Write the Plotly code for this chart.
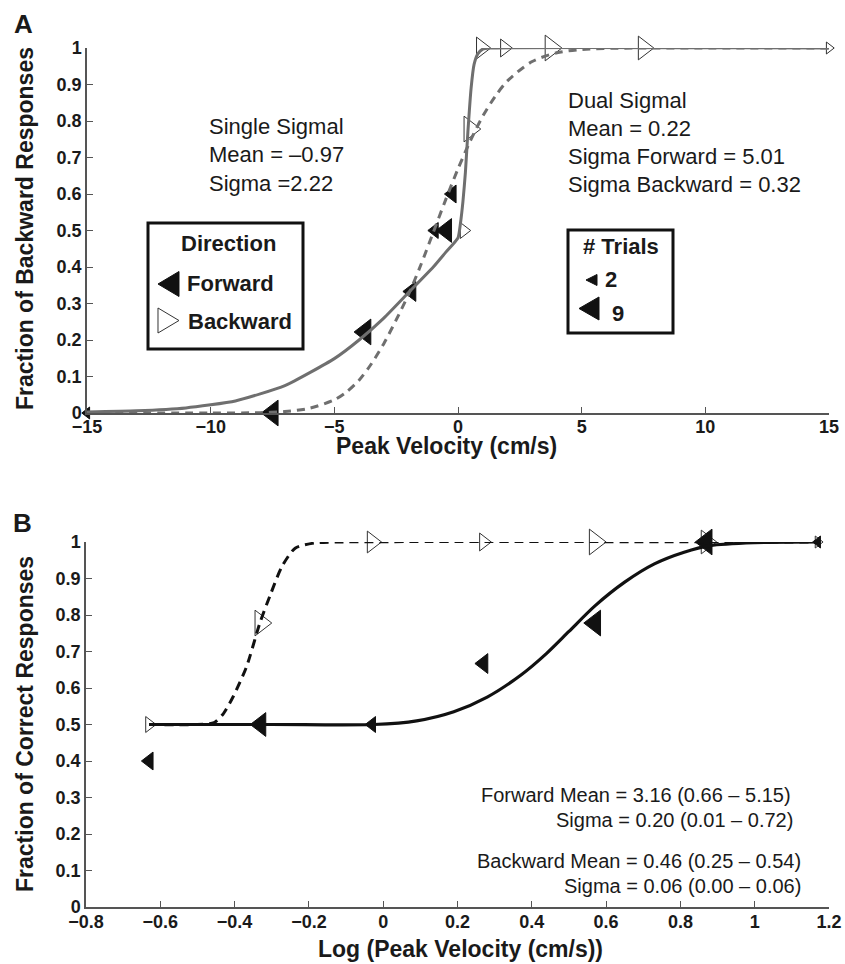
import plotly.graph_objects as go

W, H = 845, 964

# ---------------- data ----------------
# Panel A: peak velocity (cm/s), fraction of "backward" responses
fwd_velocity = [-0.234, -0.47, -0.94, -1.88, -3.75, -7.5, -15]
fwd_frac_backward = [0.6, 0.5, 0.5, 0.333, 0.222, 0.0, 0.0]
fwd_trials = [5, 8, 4, 6, 9, 9, 2]

bwd_velocity = [0.234, 0.47, 0.94, 1.88, 3.75, 7.5, 15]
bwd_frac_backward = [0.5, 0.778, 1.0, 1.0, 1.0, 1.0, 1.0]
bwd_trials = [4, 9, 7, 5, 9, 8, 2]

# fitted curves
dual_fit_x = [-15, -13, -11, -9, -7, -5, -4, -3, -2, -1, -0.5, 0, 0.1, 0.2, 0.3, 0.4, 0.53, 0.65, 0.8, 1.0, 1.3, 15]
dual_fit_y = [0.003, 0.006, 0.014, 0.033, 0.075, 0.149, 0.20, 0.26, 0.33, 0.40, 0.44, 0.48, 0.52, 0.58, 0.66, 0.77, 0.89, 0.955, 0.984, 0.997, 1.0, 1.0]

single_fit_x = [-15, -10, -8, -7, -6, -5, -4.5, -4, -3.5, -3, -2.5, -2, -1.5, -1, -0.5, 0, 0.5, 1, 1.5, 2, 3, 4, 5, 6, 15]
single_fit_y = [0.0, 0.0, 0.001, 0.004, 0.013, 0.036, 0.058, 0.09, 0.135, 0.19, 0.255, 0.325, 0.406, 0.495, 0.584, 0.669, 0.746, 0.813, 0.867, 0.91, 0.963, 0.987, 0.996, 0.999, 1.0]

# Panel B: log10 peak velocity, fraction of correct responses
log_speed = [-0.63, -0.33, -0.03, 0.27, 0.57, 0.87, 1.17]
fwd_frac_correct = [0.4, 0.5, 0.5, 0.667, 0.778, 1.0, 1.0]
bwd_frac_correct = [0.5, 0.778, 1.0, 1.0, 1.0, 1.0, 1.0]

fwd_fit_x = [-0.63, -0.3, -0.025, 0.09, 0.19, 0.28, 0.37, 0.44, 0.5, 0.57, 0.65, 0.73, 0.81, 0.88, 1.0, 1.17]
fwd_fit_y = [0.5, 0.5, 0.5, 0.51, 0.535, 0.575, 0.635, 0.695, 0.755, 0.825, 0.89, 0.94, 0.972, 0.99, 0.998, 1.0]

bwd_fit_x = [-0.63, -0.5, -0.455, -0.43, -0.404, -0.368, -0.332, -0.302, -0.273, -0.237, -0.186, -0.12, 1.17]
bwd_fit_y = [0.5, 0.5, 0.505, 0.53, 0.576, 0.658, 0.778, 0.86, 0.932, 0.983, 0.997, 1.0, 1.0]

# ---------------- styling helpers ----------------
FONT = "Liberation Sans, Arial, sans-serif"
GRAY = "#6f6f6f"
AX = "#555555"


def msize(trials):
    return [7 + 1.7 * n for n in trials]


def px(x):
    return x / W


def py(y):
    return 1 - y / H


fig = go.Figure()

# ---- Panel A markers ----
fig.add_trace(go.Scatter(
    x=fwd_velocity, y=fwd_frac_backward, mode="markers", xaxis="x", yaxis="y",
    marker=dict(symbol="triangle-left", size=msize(fwd_trials), color="#111111", opacity=1,
                line=dict(color="#111111", width=1)),
    cliponaxis=False, showlegend=False))
fig.add_trace(go.Scatter(
    x=bwd_velocity, y=bwd_frac_backward, mode="markers", xaxis="x", yaxis="y",
    marker=dict(symbol="triangle-right", size=msize(bwd_trials), color="white", opacity=1,
                line=dict(color="#333333", width=1)),
    cliponaxis=False, showlegend=False))
# ---- Panel A curves ----
fig.add_trace(go.Scatter(
    x=single_fit_x, y=single_fit_y, mode="lines", xaxis="x", yaxis="y",
    line=dict(color=GRAY, width=3, dash="8px,6px", shape="spline", smoothing=0.8),
    cliponaxis=False, showlegend=False))
fig.add_trace(go.Scatter(
    x=dual_fit_x, y=dual_fit_y, mode="lines", xaxis="x", yaxis="y",
    line=dict(color=GRAY, width=3, shape="spline", smoothing=0.5),
    cliponaxis=False, showlegend=False))

# ---- Panel B markers ----
fig.add_trace(go.Scatter(
    x=log_speed, y=bwd_frac_correct, mode="markers", xaxis="x2", yaxis="y2",
    marker=dict(symbol="triangle-right", size=msize(bwd_trials), color="white", opacity=1,
                line=dict(color="#333333", width=1)),
    cliponaxis=False, showlegend=False))
fig.add_trace(go.Scatter(
    x=log_speed, y=fwd_frac_correct, mode="markers", xaxis="x2", yaxis="y2",
    marker=dict(symbol="triangle-left", size=msize(fwd_trials), color="#111111", opacity=1,
                line=dict(color="#111111", width=1)),
    cliponaxis=False, showlegend=False))
# ---- Panel B curves ----
fig.add_trace(go.Scatter(
    x=bwd_fit_x, y=bwd_fit_y, mode="lines", xaxis="x2", yaxis="y2",
    line=dict(color="#111111", width=3, dash="9px,6px", shape="spline", smoothing=0.7),
    cliponaxis=False, showlegend=False))
fig.add_trace(go.Scatter(
    x=fwd_fit_x, y=fwd_fit_y, mode="lines", xaxis="x2", yaxis="y2",
    line=dict(color="#111111", width=3.2, shape="spline", smoothing=0.8),
    cliponaxis=False, showlegend=False))

tickfont = dict(family=FONT, size=18, color="#1a1a1a", weight="bold")
common = dict(showgrid=False, zeroline=False, showline=True, linecolor=AX, linewidth=1.5,
              ticks="inside", ticklen=6, tickcolor=AX, tickwidth=1.2, tickfont=tickfont,
              automargin=False)

fig.update_layout(
    width=W, height=H, margin=dict(l=0, r=0, t=0, b=0, autoexpand=False),
    paper_bgcolor="white", plot_bgcolor="rgba(0,0,0,0)",
    showlegend=False,
    xaxis=dict(domain=[87 / W, 829 / W], range=[-15, 15], tickvals=[-15, -10, -5, 0, 5, 10, 15],
               anchor="y", ticklabelstandoff=-3, **common),
    yaxis=dict(domain=[1 - 413 / H, 1 - 48 / H], range=[0, 1], dtick=0.1, tick0=0,
               anchor="x", **common),
    xaxis2=dict(domain=[86 / W, 829 / W], range=[-0.8, 1.2], dtick=0.2, tick0=-0.8,
                anchor="y2", ticklabelstandoff=-2, **common),
    yaxis2=dict(domain=[1 - 907 / H, 1 - 542 / H], range=[0, 1], dtick=0.1, tick0=0,
                anchor="x2", **common),
)

ann = []


def text(t, x, y, size, bold=False, xanchor="left", angle=0):
    ann.append(dict(text=t, x=px(x), y=py(y), xref="paper", yref="paper",
                    xanchor=xanchor, yanchor="middle", showarrow=False, textangle=angle,
                    font=dict(family=FONT, size=size, color="#1a1a1a",
                              weight="bold" if bold else "normal")))


# panel letters
text("A", 23, 24, 26, bold=True, xanchor="center")
text("B", 22, 523, 26, bold=True, xanchor="center")

# axis titles
text("Fraction of Backward Responses", 25, 229, 23, bold=True, xanchor="center", angle=-90)
text("Fraction of Correct Responses", 25, 724, 23, bold=True, xanchor="center", angle=-90)
text("Peak Velocity (cm/s)", 446, 446, 23, bold=True, xanchor="center")
text("Log (Peak Velocity (cm/s))", 460, 949, 23, bold=True, xanchor="center")

# panel A fit descriptions
for i, line in enumerate(["Single Sigmal", "Mean = \u20130.97", "Sigma =2.22"]):
    text(line, 207, 127 + 28 * i, 22)
for i, line in enumerate(["Dual Sigmal", "Mean = 0.22", "Sigma Forward = 5.01", "Sigma Backward = 0.32"]):
    text(line, 566, 101 + 27.7 * i, 22)

# legend boxes text
text("Direction", 228, 243, 22, bold=True, xanchor="center")
text("Forward", 185, 283, 22, bold=True)
text("Backward", 186, 322, 22, bold=True)
text("# Trials", 621, 247, 22, bold=True, xanchor="center")
text("2", 603, 279, 22, bold=True)
text("9", 610, 314, 22, bold=True)

# panel B fit descriptions
text("Forward Mean = 3.16 (0.66 \u2013 5.15)", 793, 795, 20, xanchor="right")
text("Sigma = 0.20 (0.01 \u2013 0.72)", 795, 820, 20, xanchor="right")
text("Backward Mean = 0.46 (0.25 \u2013 0.54)", 803, 861, 20, xanchor="right")
text("Sigma = 0.06 (0.00 \u2013 0.06)", 803, 886, 20, xanchor="right")

fig.update_layout(annotations=ann)

shapes = []


def rect(x0, y0, x1, y1):
    shapes.append(dict(type="rect", xref="paper", yref="paper", x0=px(x0), x1=px(x1),
                       y0=py(y1), y1=py(y0), line=dict(color="#111111", width=3),
                       fillcolor="rgba(0,0,0,0)", layer="above"))


def tri(pts, fill, line_col):
    d = "M " + " L ".join(f"{px(a):.5f},{py(b):.5f}" for a, b in pts) + " Z"
    shapes.append(dict(type="path", xref="paper", yref="paper", path=d, fillcolor=fill,
                       line=dict(color=line_col, width=1), layer="above"))


rect(148, 223, 303, 349)
rect(568, 230, 673, 333)
# legend glyphs
tri([(158, 284), (179, 271.5), (179, 296.5)], "#111111", "#111111")
tri([(179, 320.5), (158, 308), (158, 333)], "white", "#333333")
tri([(586, 280), (597, 274.5), (597, 285.5)], "#111111", "#111111")
tri([(579, 308.5), (599, 297), (599, 320)], "#111111", "#111111")

fig.update_layout(shapes=shapes)

fig.write_html("out.html")
